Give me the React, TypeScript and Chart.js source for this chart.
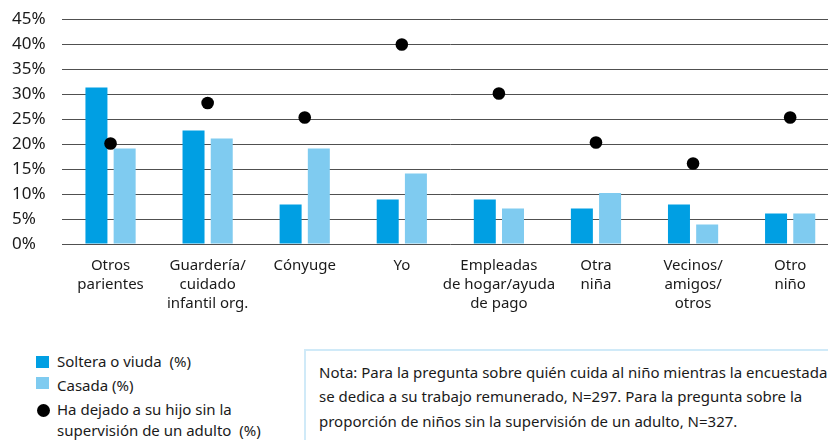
import React, { useEffect, useRef } from "react";
import { Chart, registerables } from "chart.js";

Chart.register(...registerables);

// ---- data ----
const categories: string[][] = [
  ["Otros", "parientes"],
  ["Guardería/", "cuidado", "infantil org."],
  ["Cónyuge"],
  ["Yo"],
  ["Empleadas", "de hogar/ayuda", "de pago"],
  ["Otra", "niña"],
  ["Vecinos/", "amigos/", "otros"],
  ["Otro", "niño"],
];
const solteraValues = [31.3, 22.7, 7.9, 8.9, 8.9, 7.1, 7.9, 6.1];
const casadaValues = [19.1, 21.1, 19.1, 14.1, 7.1, 10.2, 3.9, 6.1];
const sinSupervisionValues = [20.1, 28.2, 25.3, 39.9, 30.1, 20.3, 16.1, 25.3];
const seriesNames = [
  "Soltera o viuda  (%)",
  "Casada (%)",
  "Ha dejado a su hijo sin la supervisión de un adulto  (%)",
];
const legendLinesThird = ["Ha dejado a su hijo sin la", "supervisión de un adulto  (%)"];
const yMin = 0;
const yMax = 45;
const yStep = 5;
const noteLines = [
  "Nota: Para la pregunta sobre quién cuida al niño mientras la encuestada",
  "se dedica a su trabajo remunerado, N=297. Para la pregunta sobre la",
  "proporción de niños sin la supervisión de un adulto, N=327.",
];

const FONT = "'Noto Sans', 'Open Sans', sans-serif";
const DARK = "#009fe3";
const LIGHT = "#7fcbf0";
const TEXT = "#1a1a1a";
const CANVAS_W = 845;
const CANVAS_H = 330;

export default function App() {
  const canvasRef = useRef<HTMLCanvasElement | null>(null);

  useEffect(() => {
    if (!canvasRef.current) return;
    const chart = new Chart(canvasRef.current, {
      type: "bar",
      data: {
        labels: categories as any,
        datasets: [
          {
            type: "line" as any,
            label: seriesNames[2],
            data: sinSupervisionValues,
            showLine: false,
            pointRadius: 6.3,
            pointHoverRadius: 6.3,
            pointBackgroundColor: "#000",
            pointBorderColor: "#000",
            pointBorderWidth: 0,
            backgroundColor: "#000",
            borderColor: "#000",
            order: 0,
          } as any,
          {
            label: seriesNames[0],
            data: solteraValues,
            backgroundColor: DARK,
            barPercentage: 0.78,
            categoryPercentage: 0.581,
            order: 1,
          },
          {
            label: seriesNames[1],
            data: casadaValues,
            backgroundColor: LIGHT,
            barPercentage: 0.78,
            categoryPercentage: 0.581,
            order: 2,
          },
        ],
      },
      options: {
        responsive: false,
        animation: false,
        layout: { padding: { top: 19, left: 12, right: 0, bottom: 0 } },
        plugins: {
          legend: { display: false },
          tooltip: { enabled: false },
        },
        scales: {
          x: {
            grid: { display: false },
            border: { display: false },
            ticks: {
              autoSkip: false,
              maxRotation: 0,
              minRotation: 0,
              padding: 4,
              color: TEXT,
              font: { family: FONT, size: 15, lineHeight: 19 / 15 },
            },
            afterFit: (s: any) => {
              s.height = 86;
            },
          },
          y: {
            min: yMin,
            max: yMax,
            ticks: {
              stepSize: yStep,
              crossAlign: "far",
              padding: 0,
              color: TEXT,
              font: { family: FONT, size: 17 },
              callback: (v: any) => `${v}%`,
            },
            grid: { color: "#505050", lineWidth: 1, drawTicks: false },
            border: { display: false },
            afterFit: (s: any) => {
              s.width = 50;
            },
          },
        },
      },
    });
    return () => chart.destroy();
  }, []);

  return (
    <div
      style={{
        position: "fixed",
        left: 0,
        top: 0,
        width: 828,
        height: 440,
        overflow: "hidden",
        background: "#fff",
        fontFamily: FONT,
        color: TEXT,
      }}
    >
      <div style={{ position: "absolute", left: 0, top: 0, width: CANVAS_W, height: CANVAS_H }}>
        <canvas
          ref={canvasRef}
          width={CANVAS_W}
          height={CANVAS_H}
          style={{ width: CANVAS_W, height: CANVAS_H }}
        />
      </div>

      {/* legend */}
      <div style={{ position: "absolute", left: 36, top: 356, width: 13, height: 12, background: DARK }} />
      <div style={{ position: "absolute", left: 57, top: 349, height: 24, lineHeight: "24px", fontSize: 15, whiteSpace: "pre" }}>
        {seriesNames[0]}
      </div>
      <div style={{ position: "absolute", left: 36, top: 377, width: 13, height: 12, background: LIGHT }} />
      <div style={{ position: "absolute", left: 57, top: 372.5, height: 24, lineHeight: "24px", fontSize: 15, whiteSpace: "pre" }}>
        {seriesNames[1]}
      </div>
      <div
        style={{
          position: "absolute",
          left: 36.5,
          top: 403.5,
          width: 13,
          height: 13,
          borderRadius: "50%",
          background: "#000",
        }}
      />
      <div style={{ position: "absolute", left: 57, top: 399, lineHeight: "21px", fontSize: 15, whiteSpace: "pre" }}>
        {legendLinesThird.map((l, i) => (
          <div key={i}>{l}</div>
        ))}
      </div>

      {/* note box */}
      <div
        style={{
          position: "absolute",
          left: 304,
          top: 349,
          width: 620,
          height: 150,
          border: "2px solid #d0eaf8",
          boxSizing: "border-box",
          paddingLeft: 13,
          paddingTop: 9,
          fontSize: 15,
          lineHeight: "24.3px",
          whiteSpace: "pre",
        }}
      >
        {noteLines.map((l, i) => (
          <div key={i}>{l}</div>
        ))}
      </div>
    </div>
  );
}
